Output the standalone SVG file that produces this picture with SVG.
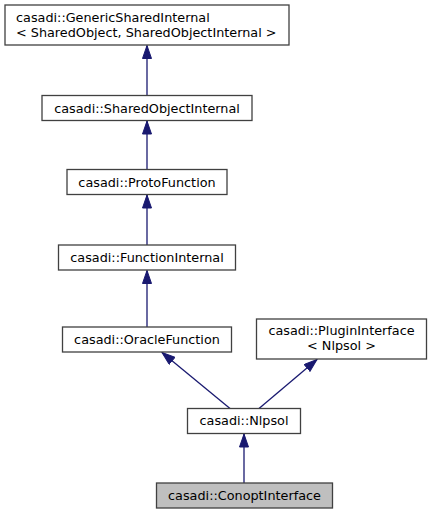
<svg xmlns="http://www.w3.org/2000/svg" width="433" height="515" viewBox="0 0 433 515">
<style>
.node rect{fill:#ffffff;stroke:#404040;stroke-width:1.3}
.node.cur rect{fill:#bfbfbf}
.node text{font-family:"DejaVu Sans",sans-serif;font-size:12.8px;fill:#000000}
.edges path{fill:none;stroke:#191970;stroke-width:1.3}
</style>
<defs>
<marker id="arr" markerUnits="userSpaceOnUse" viewBox="0 0 14 10" refX="13.5" refY="5" markerWidth="14" markerHeight="10" orient="auto">
<path d="M0.5,0.5 L13.5,5 L0.5,9.5 z" fill="#191970" stroke="#191970" stroke-width="1"/>
</marker>
</defs>
<rect width="433" height="515" fill="#ffffff"/>
<g class="edges">
<path d="M147,95.5 L147,45.5" marker-end="url(#arr)"/>
<path d="M147,169.5 L147,121" marker-end="url(#arr)"/>
<path d="M147,245 L147,195" marker-end="url(#arr)"/>
<path d="M147,327 L147,270.5" marker-end="url(#arr)"/>
<path d="M230,408.5 L162,352.5" marker-end="url(#arr)"/>
<path d="M259,408.5 L317,359.5" marker-end="url(#arr)"/>
<path d="M244,483 L244,434" marker-end="url(#arr)"/>
</g>
<g id="node-GenericSharedInternal" class="node">
<rect x="5" y="5" width="284" height="40"/>
<text x="16" y="21.5">casadi::GenericSharedInternal</text>
<text x="16" y="36.5">&lt; SharedObject, SharedObjectInternal &gt;</text>
</g>
<g id="node-SharedObjectInternal" class="node">
<rect x="42" y="95.5" width="210" height="25"/>
<text x="147" y="112.5" text-anchor="middle">casadi::SharedObjectInternal</text>
</g>
<g id="node-ProtoFunction" class="node">
<rect x="67" y="169.5" width="160" height="25"/>
<text x="147" y="186.5" text-anchor="middle">casadi::ProtoFunction</text>
</g>
<g id="node-FunctionInternal" class="node">
<rect x="58.5" y="245" width="177" height="25"/>
<text x="147" y="261.5" text-anchor="middle">casadi::FunctionInternal</text>
</g>
<g id="node-OracleFunction" class="node">
<rect x="62.5" y="327" width="169" height="25"/>
<text x="147" y="343.5" text-anchor="middle">casadi::OracleFunction</text>
</g>
<g id="node-PluginInterface" class="node">
<rect x="256.5" y="319" width="170" height="40"/>
<text x="341.5" y="334.5" text-anchor="middle">casadi::PluginInterface</text>
<text x="341.5" y="349.5" text-anchor="middle">&lt; Nlpsol &gt;</text>
</g>
<g id="node-Nlpsol" class="node">
<rect x="187.5" y="408.5" width="113" height="25"/>
<text x="244" y="425" text-anchor="middle">casadi::Nlpsol</text>
</g>
<g id="node-ConoptInterface" class="node cur">
<rect x="156.5" y="483" width="176" height="25"/>
<text x="244.5" y="499.5" text-anchor="middle">casadi::ConoptInterface</text>
</g>
</svg>
